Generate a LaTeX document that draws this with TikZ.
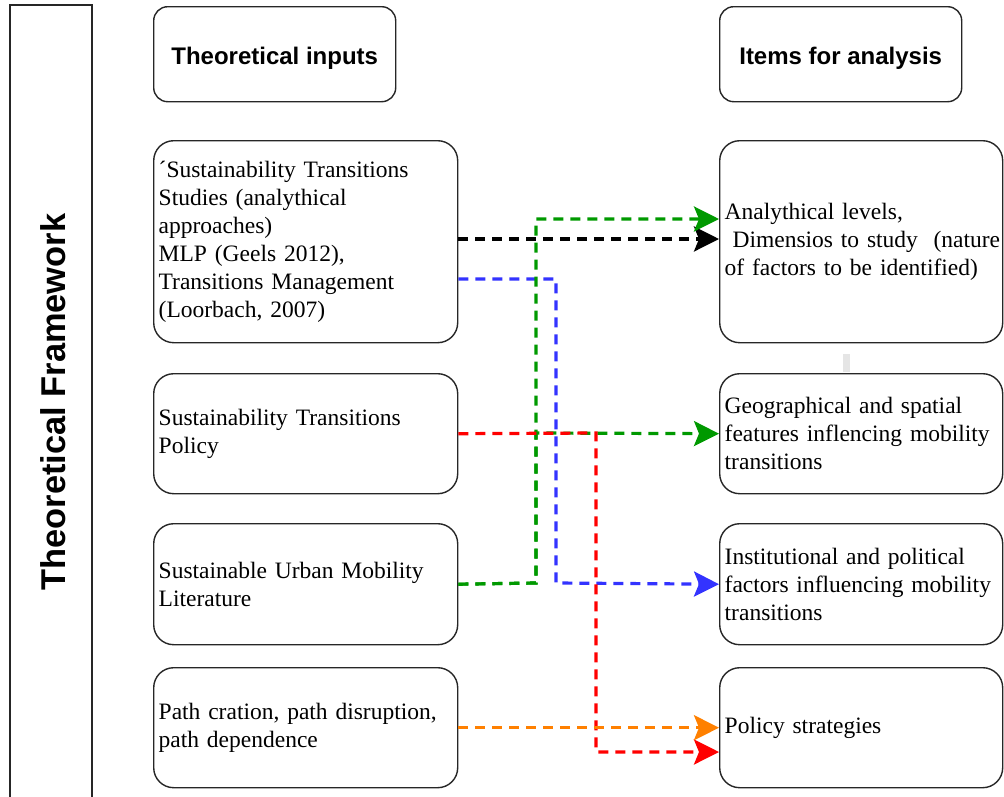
\documentclass[tikz,border=0pt]{standalone}
\usepackage{fontspec}
\setmainfont{Liberation Serif}
\newfontfamily\headfont{Liberation Sans}
\usetikzlibrary{arrows.meta}

\definecolor{lgreen}{RGB}{0,153,0}
\definecolor{lblue}{RGB}{51,51,255}
\definecolor{lred}{RGB}{255,0,0}
\definecolor{lorange}{RGB}{255,128,0}

\begin{document}
\begin{tikzpicture}[x=1pt,y=-1pt,
  box/.style={draw=black!85, line width=1.4pt, rounded corners=20pt, fill=white,
    anchor=north west, inner xsep=5pt, inner ysep=0pt, align=left,
    font=\fontsize{23.5}{28}\selectfont},
  inbox/.style={box, minimum width=304pt, text width=294pt},
  outbox/.style={box, minimum width=283pt, text width=273pt},
  headbox/.style={draw=black!85, line width=1.4pt, rounded corners=14pt, fill=white,
    anchor=north west, minimum width=242pt, minimum height=95pt,
    font=\headfont\bfseries\fontsize{24}{28}\selectfont},
  conn/.style={line width=3.2pt, dash pattern=on 10pt off 7pt,
    -{Stealth[length=25pt,width=25pt,inset=5pt]}}
]
\useasboundingbox (0,0) rectangle (1004,796);

% side frame
\draw[line width=1.4pt, black!85] (10,5) rectangle (92,805);
\node[rotate=90, font=\headfont\bfseries\fontsize{34.4}{40}\selectfont] (fw) at (53,402) {Theoretical Framework};

% column headers (baseline placed just below the box centre)
\node[headbox] (hin) at (153,6) {\raisebox{-10pt}[0pt][0pt]{Theoretical inputs}};
\node[headbox] (hout) at (719,6) {\raisebox{-10pt}[0pt][0pt]{Items for analysis}};

% theoretical inputs
\node[inbox, minimum height=202pt] (in1) at (153,140) {´Sustainability Transitions\\Studies (analythical\\approaches)\\MLP (Geels 2012),\\Transitions Management\\(Loorbach, 2007)};
\node[inbox, minimum height=120pt] (in2) at (153,373) {Sustainability Transitions\\Policy};
\node[inbox, minimum height=121pt] (in3) at (153,523) {Sustainable Urban Mobility\\Literature};
\node[inbox, minimum height=120pt] (in4) at (153,667) {Path cration, path disruption,\\path dependence};

% items for analysis
\node[outbox, minimum height=202pt] (out1) at (719,140) {Analythical levels,\\\mbox{\ Dimensios to study \ (nature}\\of factors to be identified)};
\node[outbox, minimum height=120pt] (out2) at (719,373) {Geographical and spatial\\features inflencing mobility\\transitions};
\node[outbox, minimum height=121pt] (out3) at (719,523) {Institutional and political\\factors influencing mobility\\transitions};
\node[outbox, minimum height=120pt] (out4) at (719,667) {Policy strategies};

\fill[black!10] (843,354) rectangle (850,372);

% connectors
\draw[conn, black] (in1.east |- 0,239) -- (out1.west |- 0,239);
\draw[conn, lblue] (in1.east |- 0,279) -- (556,279) -- (556,583) -- (out3.west);
\draw[conn, lgreen] (in3.east) -- (536,583) -- (536,219) -- (out1.west |- 0,219);
\draw[conn, lgreen] (in3.east) -- (536,583) -- (536,433) -- (out2.west);
\draw[conn, lred] (in2.east) -- (596,433) -- (596,752) -- (out4.west |- 0,752);
\draw[conn, lorange] (in4.east) -- (out4.west);
\end{tikzpicture}
\end{document}
